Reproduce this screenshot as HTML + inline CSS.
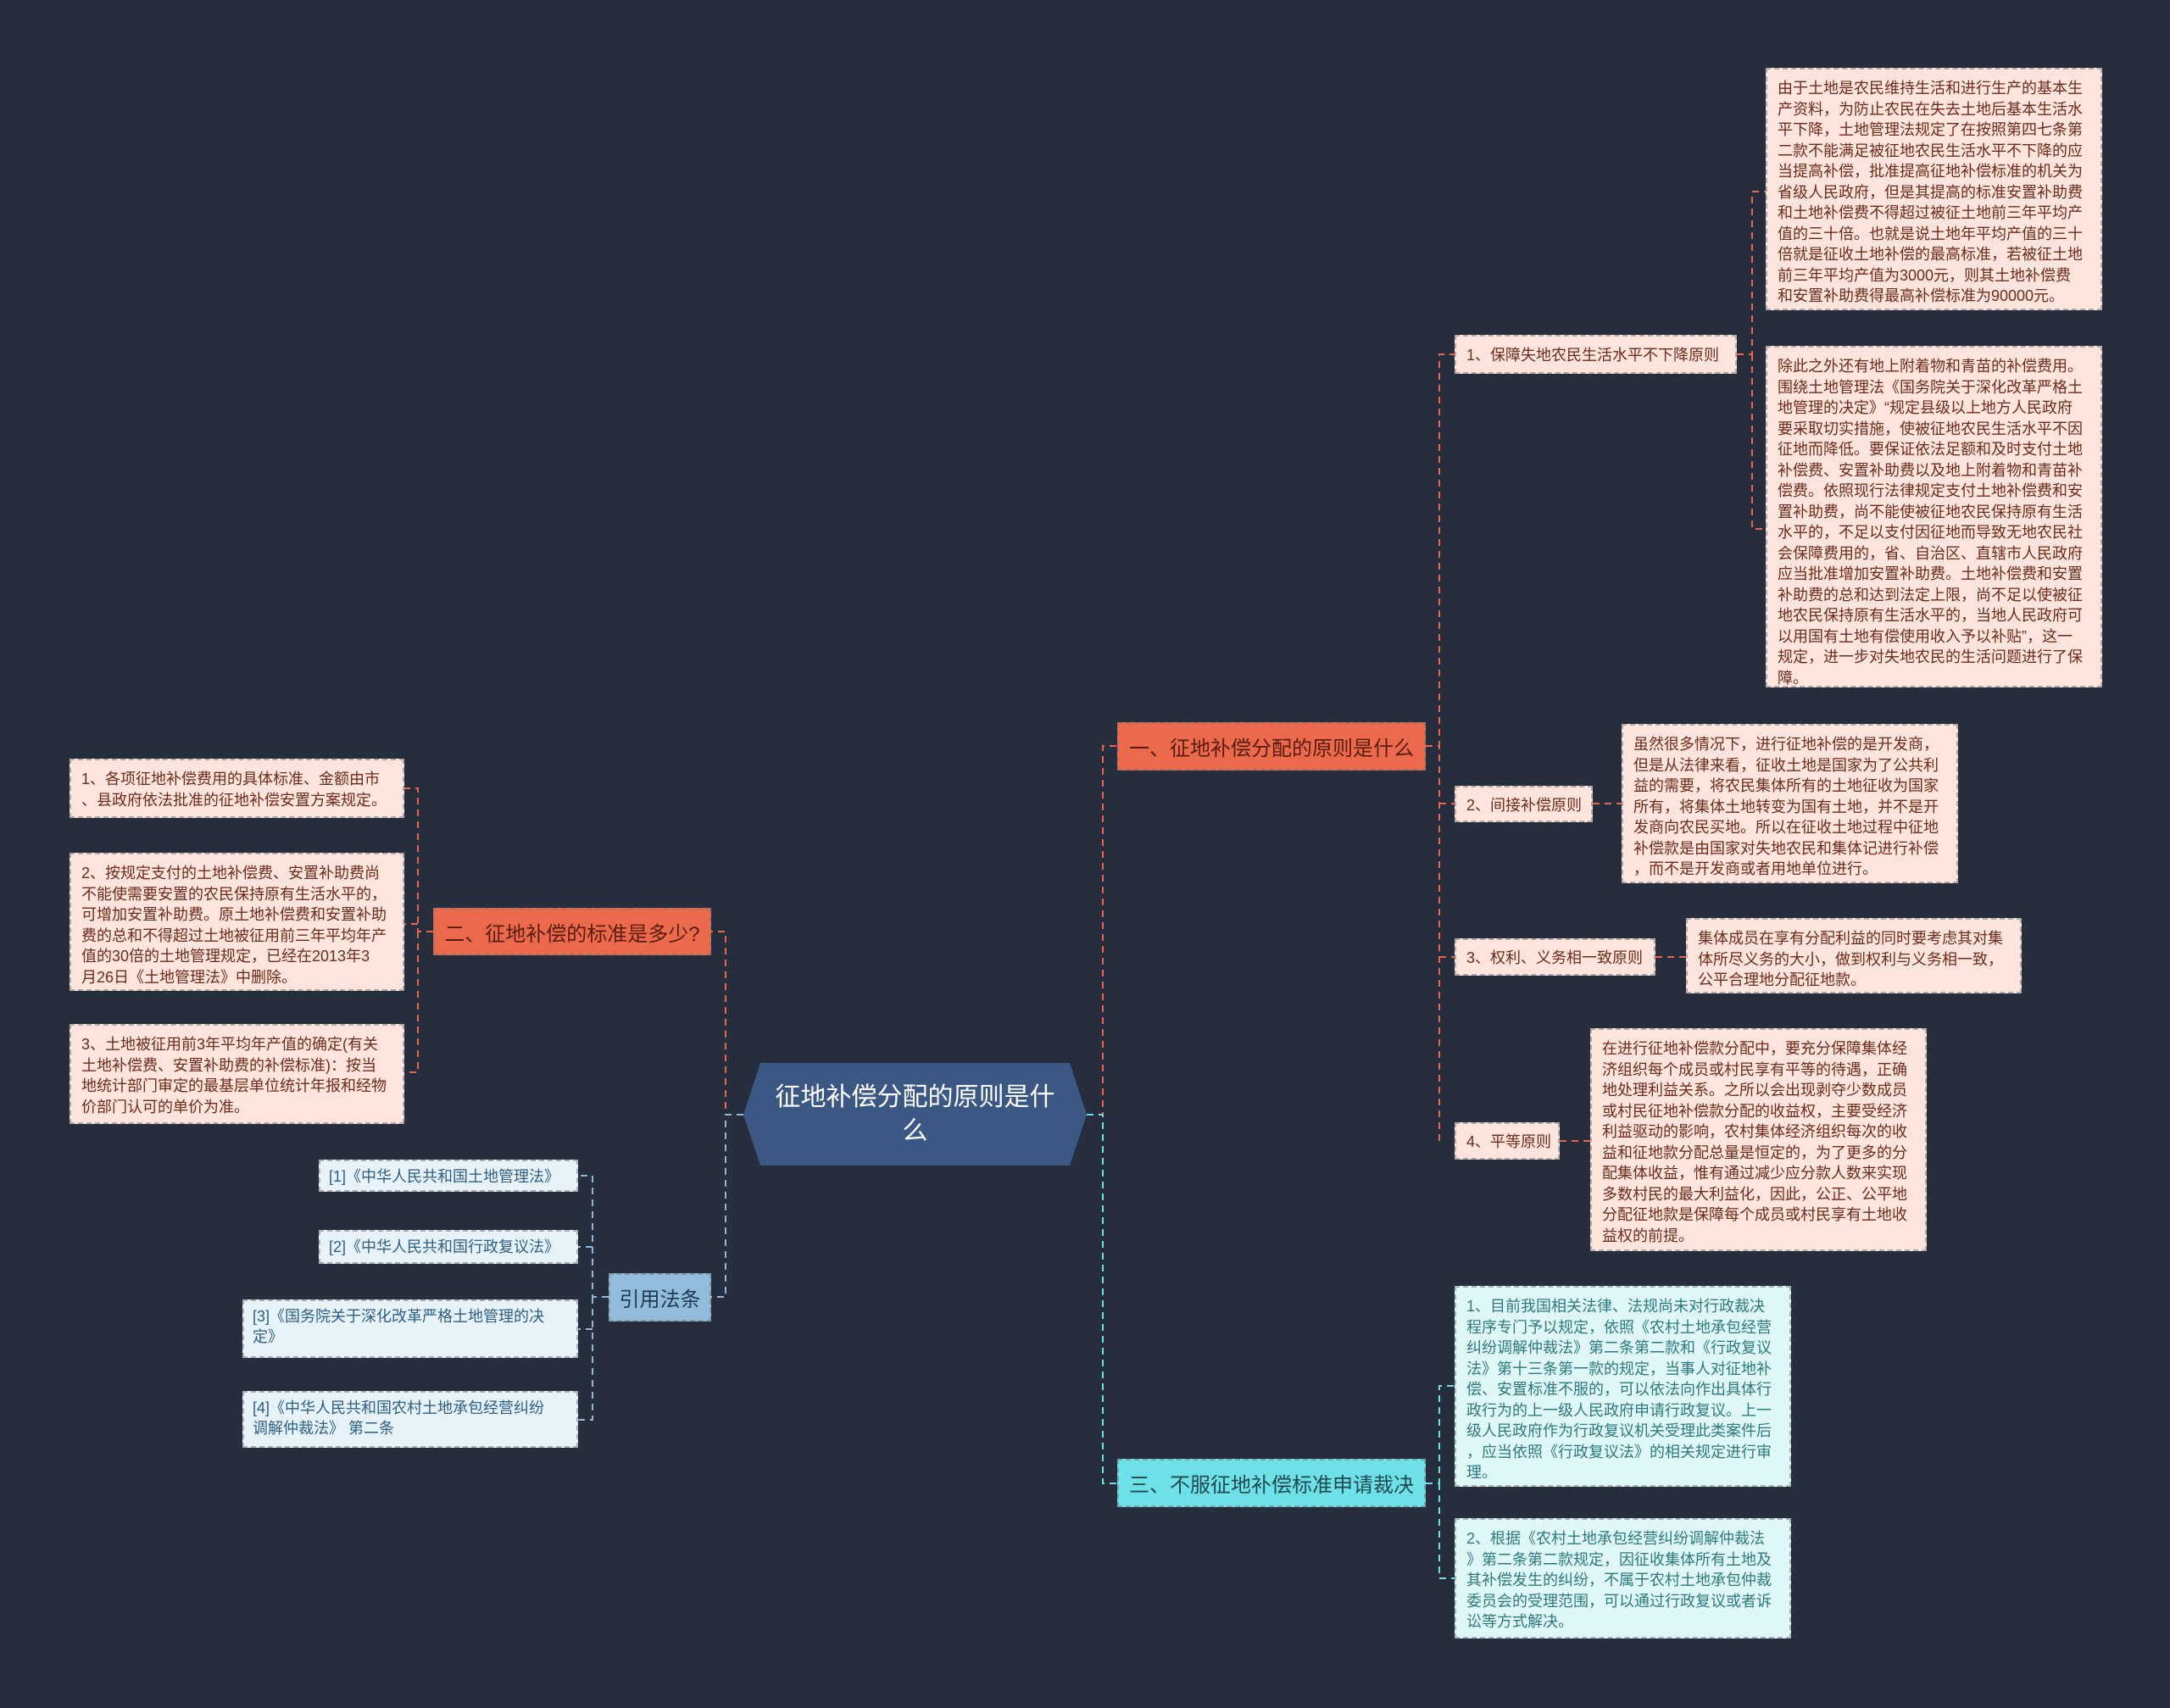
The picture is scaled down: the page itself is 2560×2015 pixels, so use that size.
<!DOCTYPE html>
<html><head><meta charset="utf-8"><style>
body{margin:0;width:2560px;height:2015px;background:#262e3d;position:relative;overflow:hidden;font-family:"Liberation Sans","Noto Sans CJK SC",sans-serif;}
.b{position:absolute;box-sizing:border-box;border:2px dashed rgba(120,120,120,.55);white-space:nowrap;}
.p{background:#fde4dc;color:#6e2a1a;font-size:18px;line-height:24.5px;padding:10px 12px;}
.c{background:#e0f7f7;color:#2c7a7e;font-size:18px;line-height:24.5px;padding:10px 12px;}
.l{background:#e8f3f9;color:#2b5f85;font-size:18px;line-height:24px;padding:6px 10px;}
.s{background:#fde4dc;color:#6e2a1a;font-size:18px;display:flex;align-items:center;padding:0 12px;}
.m{font-size:24px;display:flex;align-items:center;justify-content:center;}
</style></head><body>
<svg width="2560" height="2015" style="position:absolute;left:0;top:0">
<g fill="none" stroke-width="2" stroke-dasharray="8,6">
<g stroke="#e8664a">
<path d="M1282 1315 H1301 V880 H1318"/>
<path d="M1682 880 H1698 V418 H1716 M1698 948 H1716 M1698 1129 H1716 M1698 1346 V880"/>
<path d="M2049 418 H2067 V226 H2083 M2067 418 V624 H2083"/>
<path d="M1879 948 H1913 M1953 1129 H1989 M1840 1346 H1876"/>
<path d="M877 1315 H856 V1099 H839"/>
<path d="M511 1099 H493 V930 H477 M493 1099 V1265 H477 M493 1090 H477"/>
</g>
<g stroke="#6ddde6">
<path d="M1282 1315 H1301 V1750 H1318"/>
<path d="M1682 1750 H1698 V1635 H1716 M1698 1750 V1862 H1716"/>
</g>
<g stroke="#8fb8d8">
<path d="M877 1315 H856 V1530 H839"/>
<path d="M718 1530 H699 V1387 H682 M699 1471 H682 M699 1530 V1675 H682 M699 1568 H682"/>
</g>
</g>
<polygon points="897,1254 1262,1254 1282,1315 1262,1375 897,1375 877,1315" fill="#3a5883"/>
</svg>
<div class="b m" style="left:877px;top:1254px;width:405px;height:121px;border:none;color:#fff;font-size:30px;line-height:40px;text-align:center;">征地补偿分配的原则是什<br>么</div>
<div class="b m" style="left:1318px;top:852px;width:364px;height:57px;background:#ec6a4c;color:#5a1c10;">一、征地补偿分配的原则是什么</div>
<div class="b m" style="left:1318px;top:1721px;width:364px;height:57px;background:#6ee0e8;color:#1e4a50;">三、不服征地补偿标准申请裁决</div>
<div class="b m" style="left:511px;top:1071px;width:328px;height:56px;background:#ec6a4c;color:#5a1c10;">二、征地补偿的标准是多少?</div>
<div class="b m" style="left:718px;top:1502px;width:121px;height:57px;background:#92bcdc;color:#1e3a55;">引用法条</div>

<div class="b s" style="left:1716px;top:395px;width:333px;height:46px;">1、保障失地农民生活水平不下降原则</div>
<div class="b s" style="left:1716px;top:927px;width:163px;height:43px;">2、间接补偿原则</div>
<div class="b s" style="left:1716px;top:1107px;width:237px;height:44px;">3、权利、义务相一致原则</div>
<div class="b s" style="left:1716px;top:1324px;width:124px;height:44px;">4、平等原则</div>

<div class="b p" style="left:2083px;top:80px;width:397px;height:286px;">由于土地是农民维持生活和进行生产的基本生<br>产资料，为防止农民在失去土地后基本生活水<br>平下降，土地管理法规定了在按照第四七条第<br>二款不能满足被征地农民生活水平不下降的应<br>当提高补偿，批准提高征地补偿标准的机关为<br>省级人民政府，但是其提高的标准安置补助费<br>和土地补偿费不得超过被征土地前三年平均产<br>值的三十倍。也就是说土地年平均产值的三十<br>倍就是征收土地补偿的最高标准，若被征土地<br>前三年平均产值为3000元，则其土地补偿费<br>和安置补助费得最高补偿标准为90000元。</div>
<div class="b p" style="left:2083px;top:408px;width:397px;height:403px;">除此之外还有地上附着物和青苗的补偿费用。<br>围绕土地管理法《国务院关于深化改革严格土<br>地管理的决定》“规定县级以上地方人民政府<br>要采取切实措施，使被征地农民生活水平不因<br>征地而降低。要保证依法足额和及时支付土地<br>补偿费、安置补助费以及地上附着物和青苗补<br>偿费。依照现行法律规定支付土地补偿费和安<br>置补助费，尚不能使被征地农民保持原有生活<br>水平的，不足以支付因征地而导致无地农民社<br>会保障费用的，省、自治区、直辖市人民政府<br>应当批准增加安置补助费。土地补偿费和安置<br>补助费的总和达到法定上限，尚不足以使被征<br>地农民保持原有生活水平的，当地人民政府可<br>以用国有土地有偿使用收入予以补贴”，这一<br>规定，进一步对失地农民的生活问题进行了保<br>障。</div>
<div class="b p" style="left:1913px;top:854px;width:397px;height:188px;">虽然很多情况下，进行征地补偿的是开发商，<br>但是从法律来看，征收土地是国家为了公共利<br>益的需要，将农民集体所有的土地征收为国家<br>所有，将集体土地转变为国有土地，并不是开<br>发商向农民买地。所以在征收土地过程中征地<br>补偿款是由国家对失地农民和集体记进行补偿<br>，而不是开发商或者用地单位进行。</div>
<div class="b p" style="left:1989px;top:1083px;width:396px;height:89px;">集体成员在享有分配利益的同时要考虑其对集<br>体所尽义务的大小，做到权利与义务相一致，<br>公平合理地分配征地款。</div>
<div class="b p" style="left:1876px;top:1213px;width:397px;height:263px;">在进行征地补偿款分配中，要充分保障集体经<br>济组织每个成员或村民享有平等的待遇，正确<br>地处理利益关系。之所以会出现剥夺少数成员<br>或村民征地补偿款分配的收益权，主要受经济<br>利益驱动的影响，农村集体经济组织每次的收<br>益和征地款分配总量是恒定的，为了更多的分<br>配集体收益，惟有通过减少应分款人数来实现<br>多数村民的最大利益化，因此，公正、公平地<br>分配征地款是保障每个成员或村民享有土地收<br>益权的前提。</div>
<div class="b c" style="left:1716px;top:1517px;width:397px;height:237px;">1、目前我国相关法律、法规尚未对行政裁决<br>程序专门予以规定，依照《农村土地承包经营<br>纠纷调解仲裁法》第二条第二款和《行政复议<br>法》第十三条第一款的规定，当事人对征地补<br>偿、安置标准不服的，可以依法向作出具体行<br>政行为的上一级人民政府申请行政复议。上一<br>级人民政府作为行政复议机关受理此类案件后<br>，应当依照《行政复议法》的相关规定进行审<br>理。</div>
<div class="b c" style="left:1716px;top:1791px;width:397px;height:142px;">2、根据《农村土地承包经营纠纷调解仲裁法<br>》第二条第二款规定，因征收集体所有土地及<br>其补偿发生的纠纷，不属于农村土地承包仲裁<br>委员会的受理范围，可以通过行政复议或者诉<br>讼等方式解决。</div>

<div class="b p" style="left:82px;top:895px;width:395px;height:70px;">1、各项征地补偿费用的具体标准、金额由市<br>、县政府依法批准的征地补偿安置方案规定。</div>
<div class="b p" style="left:82px;top:1006px;width:395px;height:163px;">2、按规定支付的土地补偿费、安置补助费尚<br>不能使需要安置的农民保持原有生活水平的，<br>可增加安置补助费。原土地补偿费和安置补助<br>费的总和不得超过土地被征用前三年平均年产<br>值的30倍的土地管理规定，已经在2013年3<br>月26日《土地管理法》中删除。</div>
<div class="b p" style="left:82px;top:1208px;width:395px;height:118px;">3、土地被征用前3年平均年产值的确定(有关<br>土地补偿费、安置补助费的补偿标准)：按当<br>地统计部门审定的最基层单位统计年报和经物<br>价部门认可的单价为准。</div>

<div class="b l" style="left:376px;top:1368px;width:306px;height:38px;">[1]《中华人民共和国土地管理法》</div>
<div class="b l" style="left:376px;top:1451px;width:306px;height:40px;">[2]《中华人民共和国行政复议法》</div>
<div class="b l" style="left:286px;top:1533px;width:396px;height:69px;">[3]《国务院关于深化改革严格土地管理的决<br>定》</div>
<div class="b l" style="left:286px;top:1641px;width:396px;height:67px;">[4]《中华人民共和国农村土地承包经营纠纷<br>调解仲裁法》 第二条</div>
</body></html>
